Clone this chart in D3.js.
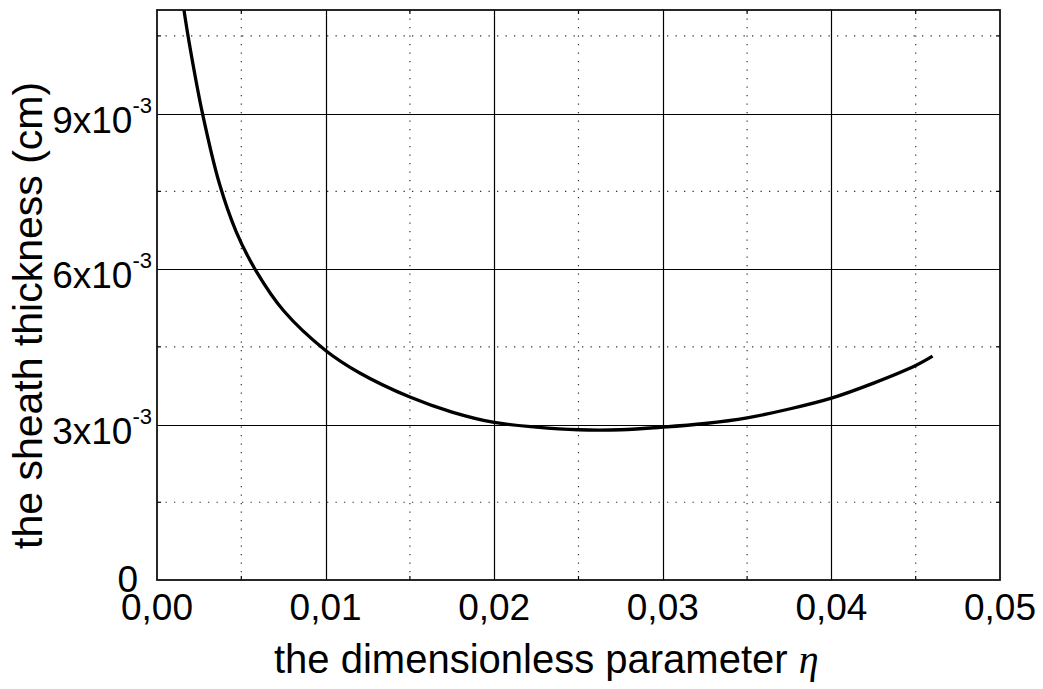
<!DOCTYPE html>
<html>
<head>
<meta charset="utf-8">
<script src="https://cdn.jsdelivr.net/npm/d3@7"></script>
<style>
  html, body { margin: 0; padding: 0; background: #fff; }
  svg { display: block; font-family: "Liberation Sans", Arial, sans-serif; }
</style>
</head>
<body>
<svg id="chart" width="1043" height="689"></svg>
<script>
// ---- data ----
const etaValues = [0.00140, 0.00160, 0.00200, 0.0027, 0.0037, 0.0047, 0.0059, 0.0075, 0.0100,
  0.0120, 0.0150, 0.0175, 0.0200, 0.0225, 0.0250, 0.0275, 0.0300, 0.0325, 0.0350,
  0.0375, 0.0400, 0.0425, 0.0450, 0.0460];
const thicknessValues = [0.01150, 0.01100, 0.01020, 0.00900, 0.00765, 0.00672, 0.00595, 0.00520, 0.00443,
  0.00400, 0.00353, 0.00324, 0.00304, 0.00295, 0.00290, 0.00290, 0.00295, 0.00302, 0.00313,
  0.00330, 0.00351, 0.00380, 0.00414, 0.00432];
const xTicks = [0, 0.01, 0.02, 0.03, 0.04, 0.05];
const xTickLabels = ["0,00", "0,01", "0,02", "0,03", "0,04", "0,05"];
const xMinorTicks = [0.005, 0.015, 0.025, 0.035, 0.045];
const yTicks = [0, 0.003, 0.006, 0.009];
const yTickMantissa = ["0", "3", "6", "9"];
const yMinorTicks = [0.0015, 0.0045, 0.0075, 0.0105];
const xTitle = "the dimensionless parameter ";
const xTitleSymbol = "η";
const yTitle = "the sheath thickness (cm)";

// ---- layout ----
const svg = d3.select("#chart");
const L = 157, R = 1000, T = 10, B = 580;
const x = d3.scaleLinear().domain([0, 0.05]).range([L, R]);
const y = d3.scaleLinear().domain([0, 0.011]).range([B, T]);

// minor dotted grid
const grid = svg.append("g");
grid.selectAll("line.vmin").data(xMinorTicks).join("line")
  .attr("x1", d => x(d)).attr("x2", d => x(d)).attr("y1", T).attr("y2", B)
  .attr("stroke", "#333").attr("stroke-width", 1.2).attr("stroke-dasharray", "1.3,7.2");
grid.selectAll("line.hmin").data(yMinorTicks).join("line")
  .attr("x1", L).attr("x2", R).attr("y1", d => y(d)).attr("y2", d => y(d))
  .attr("stroke", "#333").attr("stroke-width", 1.2).attr("stroke-dasharray", "1.3,7.2");

// major solid grid
grid.selectAll("line.vmaj").data(xTicks.slice(1, -1)).join("line")
  .attr("x1", d => Math.round(x(d)) + 0.5).attr("x2", d => Math.round(x(d)) + 0.5).attr("y1", T).attr("y2", B)
  .attr("stroke", "#000").attr("stroke-width", 1.2);
grid.selectAll("line.hmaj").data(yTicks.slice(1)).join("line")
  .attr("x1", L).attr("x2", R).attr("y1", d => Math.round(y(d)) + 0.5).attr("y2", d => Math.round(y(d)) + 0.5)
  .attr("stroke", "#000").attr("stroke-width", 1.2);

// small minor ticks on axes (inside)
const tk = 4;
const ticksG = svg.append("g").attr("stroke", "#000").attr("stroke-width", 1.2);
xMinorTicks.forEach(d => {
  ticksG.append("line").attr("x1", x(d)).attr("x2", x(d)).attr("y1", B).attr("y2", B - tk);
  ticksG.append("line").attr("x1", x(d)).attr("x2", x(d)).attr("y1", T).attr("y2", T + tk);
});
yMinorTicks.forEach(d => {
  ticksG.append("line").attr("x1", L).attr("x2", L + tk).attr("y1", y(d)).attr("y2", y(d));
  ticksG.append("line").attr("x1", R).attr("x2", R - tk).attr("y1", y(d)).attr("y2", y(d));
});

// curve
svg.append("clipPath").attr("id", "clip").append("rect")
  .attr("x", L).attr("y", T).attr("width", R - L).attr("height", B - T);
const pts = etaValues.map((e, i) => [e, thicknessValues[i]]);
const line = d3.line().x(d => x(d[0])).y(d => y(d[1])).curve(d3.curveCatmullRom.alpha(0.5));
svg.append("path").datum(pts).attr("clip-path", "url(#clip)")
  .attr("d", line).attr("fill", "none").attr("stroke", "#000").attr("stroke-width", 3.3)
  .attr("stroke-linejoin", "round");

// frame
svg.append("rect").attr("x", L).attr("y", T).attr("width", R - L).attr("height", B - T)
  .attr("fill", "none").attr("stroke", "#111").attr("stroke-width", 1.8);

// x tick labels
svg.append("g").selectAll("text").data(xTicks).join("text")
  .attr("x", d => x(d)).attr("y", 620)
  .attr("text-anchor", "middle").attr("font-size", 37).attr("fill", "#000")
  .text((d, i) => xTickLabels[i]);

// y tick labels
const yl = svg.append("g");
yTicks.forEach((d, i) => {
  if (d === 0) {
    yl.append("text").attr("x", 138).attr("y", y(d) + 12)
      .attr("text-anchor", "end").attr("font-size", 37).text(yTickMantissa[i]);
  } else {
    const t = yl.append("text").attr("x", 152).attr("y", y(d) + 19)
      .attr("text-anchor", "end").attr("font-size", 37);
    t.append("tspan").text(yTickMantissa[i] + "x10");
    t.append("tspan").attr("dy", -20).attr("font-size", 22).text("-3");
  }
});

// axis titles
const xt = svg.append("text").attr("x", 274).attr("y", 673)
  .attr("text-anchor", "start").attr("font-size", 40).attr("fill", "#000");
xt.append("tspan").text(xTitle);
xt.append("tspan").attr("font-family", "'Liberation Serif', serif").attr("font-style", "italic").text(xTitleSymbol);

svg.append("text").attr("transform", "translate(42,549) rotate(-90)")
  .attr("text-anchor", "start").attr("font-size", 41).attr("fill", "#000").text(yTitle);
</script>
</body>
</html>
